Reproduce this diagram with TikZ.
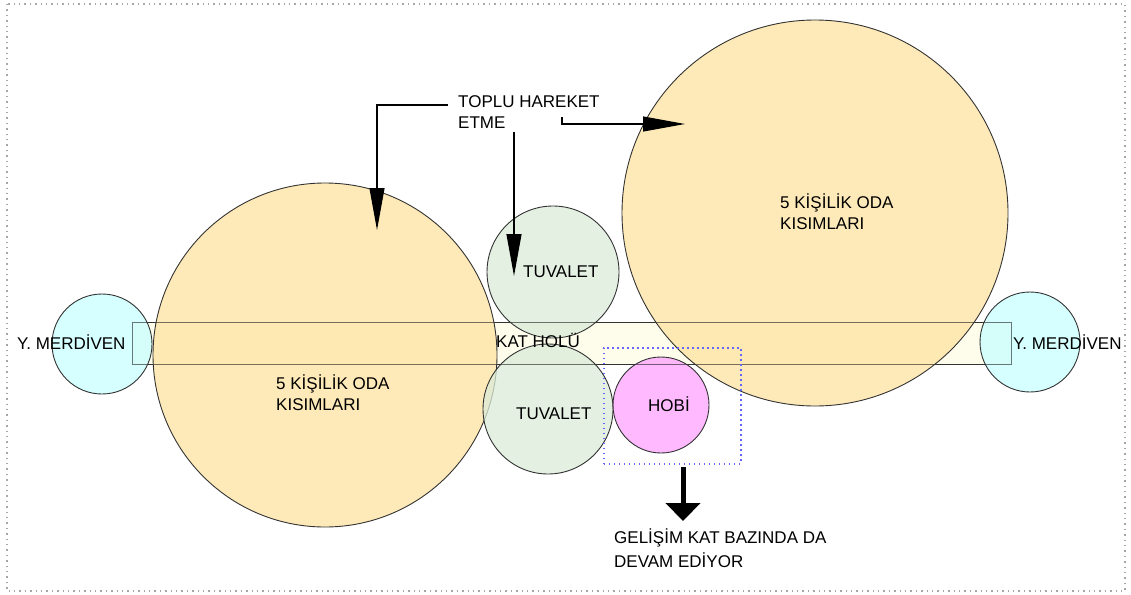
\documentclass[tikz,border=0pt]{standalone}
\usepackage{fontspec}
\setmainfont{Liberation Sans}
\usetikzlibrary{arrows.meta}
\definecolor{odacol}{RGB}{254,227,160}
\definecolor{wccol}{RGB}{218,235,216}
\definecolor{mercol}{RGB}{200,255,255}
\definecolor{hobicol}{RGB}{255,162,255}
\definecolor{holcol}{RGB}{254,253,236}
\definecolor{boxblue}{RGB}{100,100,255}
\begin{document}
\begin{tikzpicture}[x=1pt,y=-1pt,
  room/.style={circle, draw=black!80, line width=0.9pt, fill opacity=0.75, inner sep=0pt, minimum size=#1},
  lbl/.style={font=\fontsize{17}{21}\selectfont, inner sep=0pt, anchor=base west, align=left},
  ptr/.style={draw=black, line width=1.1pt, -{Triangle[length=42pt,width=15pt]}},
  bigptr/.style={draw=black, line width=5pt, -{Triangle[length=18pt,width=34pt]}}]
\useasboundingbox (0,0) rectangle (1131,594);
\draw[gray!70, line width=1.4pt, dash pattern=on 1.4pt off 4pt] (7,4) rectangle (1125,591);
% hall
\node[draw=black!80, line width=0.9pt, fill=holcol, minimum width=879pt, minimum height=42pt, inner sep=0pt, anchor=north west] (hol) at (132,322) {};
% circles
\node[room=344pt, fill=odacol] (odaL) at (325,355) {};
\node[room=386pt, fill=odacol] (odaR) at (815,213) {};
\node[room=132pt, fill=wccol] (wcT) at (553,272) {};
\node[room=130pt, fill=wccol] (wcB) at (548,409) {};
\node[room=100pt, fill=mercol] (merL) at (102,344) {};
\node[room=100pt, fill=mercol] (merR) at (1030,342) {};
\node[room=96pt, fill=hobicol] (hob) at (661,405) {};
% hall outline seen through the rooms
\draw[black!80, line width=0.9pt, draw opacity=0.55] (hol.north west) rectangle (hol.south east);
% hobi dotted box
\node[draw=boxblue, line width=1.6pt, dash pattern=on 1.6pt off 3.4pt, minimum width=137pt, minimum height=116pt, inner sep=0pt, anchor=north west] (hobbox) at (603,347) {};
% labels
\node[lbl] (tMerL) at (17,349) {Y. MERDİVEN};
\node[lbl] (tMerR) at (1013,349) {Y. MERDİVEN};
\node[lbl] (tHol) at (496,347) {KAT HOLÜ};
\node[lbl] (tOdaL) at (276,410) {5 KİŞİLİK ODA\\KISIMLARI};
\node[lbl] (tOdaR) at (780,229) {5 KİŞİLİK ODA\\KISIMLARI};
\node[lbl] (tWcT) at (523,277) {TUVALET};
\node[lbl] (tWcB) at (516,419) {TUVALET};
\node[lbl] (tHob) at (648,411) {HOBİ};
\node[lbl] (tTop) at (458,128) {TOPLU HAREKET\\ETME};
\node[lbl] (tGel) at (614,567) {GELİŞİM KAT BAZINDA DA\\[3pt]DEVAM EDİYOR};
% arrows
\coordinate (a1s) at (448,105);
\coordinate (a1e) at (377,230);
\coordinate (a2s) at (514,132);
\coordinate (a2e) at (514,276);
\coordinate (a3s) at (562,117);
\coordinate (a3e) at (685,124);
\coordinate (a4s) at (683,467);
\coordinate (a4e) at (683,521);
\draw[ptr] (a1s) -| (a1e);
\draw[ptr] (a2s) -- (a2e);
\draw[ptr] (a3s) |- (a3e);
\draw[bigptr] (a4s) -- (a4e);
\end{tikzpicture}
\end{document}
